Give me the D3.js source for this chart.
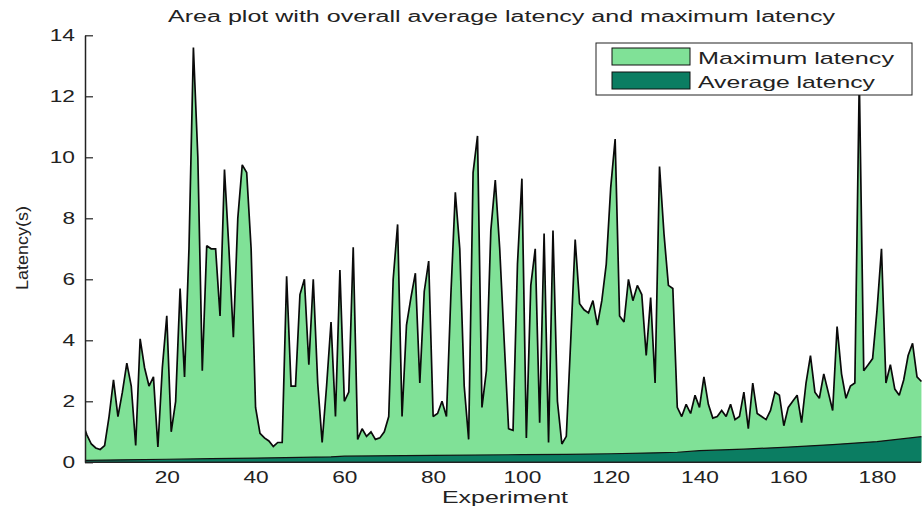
<!DOCTYPE html>
<html>
<head>
<meta charset="utf-8">
<script src="https://cdn.jsdelivr.net/npm/d3@7"></script>
<style>
  body { margin: 0; background: #fff; }
  text { font-family: "Liberation Sans", Arial, sans-serif; fill: #222; }
</style>
</head>
<body>
<div id="chart"></div>
<script>
// values, one per experiment (1..190)
let maxLatency = [
  1.3, 0.9, 0.6, 0.47, 0.42, 0.55, 1.5, 2.7, 1.5, 2.3,
  3.25, 2.5, 0.55, 4.05, 3.1, 2.5, 2.8, 0.5, 3.1, 4.8,
  1.0, 2.0, 5.7, 2.8, 7.0, 13.6, 10.0, 3.0, 7.1, 7.0,
  7.0, 4.8, 9.6, 7.0, 4.1, 8.0, 9.75, 9.5, 7.0, 1.8,
  0.95, 0.8, 0.7, 0.52, 0.65, 0.65, 6.1, 2.5, 2.5, 5.5,
  6.0, 3.2, 6.0, 2.6, 0.65, 2.5, 4.6, 1.5, 6.3, 2.0,
  2.3, 7.05, 0.75, 1.1, 0.85, 1.0, 0.75, 0.8, 1.0, 1.5,
  6.0, 7.8, 1.5, 4.5, 5.4, 6.2, 2.6, 5.6, 6.6, 1.5,
  1.6, 2.0, 1.5, 5.5, 8.85, 7.0, 2.5, 0.75, 9.5, 10.7,
  1.8, 3.0, 7.6, 9.25, 7.0, 4.0, 1.1, 1.05, 6.5, 9.3,
  0.8, 5.8, 7.0, 1.3, 7.5, 0.65, 7.6, 2.0, 0.6, 0.85,
  4.0, 7.3, 5.2, 5.0, 4.9, 5.3, 4.5, 5.3, 6.5, 9.0,
  10.6, 4.8, 4.6, 6.0, 5.3, 5.8, 5.5, 3.5, 5.4, 2.6,
  9.7, 7.5, 5.8, 5.7, 1.8, 1.5, 1.9, 1.6, 2.2, 1.8,
  2.8, 1.9, 1.45, 1.5, 1.7, 1.5, 1.9, 1.4, 1.5, 2.3,
  1.1, 2.6, 1.6, 1.5, 1.4, 1.7, 2.3, 2.2, 1.2, 1.8,
  2.0, 2.2, 1.3, 2.6, 3.5, 2.3, 2.1, 2.9, 2.3, 1.7,
  4.45, 2.9, 2.1, 2.5, 2.6, 12.6, 3.0, 3.2, 3.4, 5.0,
  7.0, 2.6, 3.2, 2.4, 2.2, 2.7, 3.5, 3.9, 2.8, 2.65
];

let avgExperiment = [1, 10, 20, 30, 40, 50, 57, 60, 80, 100, 110, 120, 130, 135, 140, 150, 160, 170, 180, 190];
let avgLatency    = [0.06, 0.08, 0.1, 0.12, 0.14, 0.16, 0.18, 0.2, 0.23, 0.25, 0.26, 0.28, 0.31, 0.33, 0.38, 0.43, 0.5, 0.58, 0.68, 0.84];

let xTicks = [20, 40, 60, 80, 100, 120, 140, 160, 180];
let yTicks = [0, 2, 4, 6, 8, 10, 12, 14];

let legendLabels = ["Maximum latency", "Average latency"];
let lightGreen = "#80e197";
let darkGreen = "#0b7d62";

let W = 923, H = 512;
let plotLeft = 85, plotRight = 921, plotTop = 35.3, plotBottom = 462.3;
let stretch = 1.42;   // the picture is stretched sideways

let x = d3.scaleLinear().domain([1.58, 189.9]).range([plotLeft, plotRight]);
let y = d3.scaleLinear().domain([0, 14]).range([plotBottom, plotTop]);

let svg = d3.select("#chart").append("svg")
  .attr("width", W)
  .attr("height", H);

svg.append("defs").append("clipPath").attr("id", "plot")
  .append("rect")
  .attr("x", plotLeft).attr("y", 0)
  .attr("width", W - plotLeft).attr("height", plotBottom + 1);

// x axis first, its inward ticks end up under the areas
let xAxis = svg.append("g")
  .attr("transform", "translate(0," + plotBottom + ")")
  .call(d3.axisBottom(x).tickValues(xTicks).tickSizeInner(-6).tickSizeOuter(0).tickPadding(0));
xAxis.select(".domain").remove();
xAxis.selectAll(".tick line").attr("stroke", "#222");
xAxis.selectAll(".tick text")
  .attr("y", 21)
  .attr("dy", 0)
  .attr("transform", "scale(" + stretch + ",1)")
  .style("font-size", "16px");

let maxData = maxLatency.map(function(v, i) { return { e: i + 1, v: v }; });
let avgData = avgExperiment.map(function(e, i) { return { e: e, v: avgLatency[i] }; });

let area = d3.area()
  .x(function(d) { return x(d.e); })
  .y0(y(0))
  .y1(function(d) { return y(d.v); });

let line = d3.line()
  .x(function(d) { return x(d.e); })
  .y(function(d) { return y(d.v); });

let plot = svg.append("g").attr("clip-path", "url(#plot)");

plot.append("path")
  .datum(maxData)
  .attr("d", area)
  .attr("fill", lightGreen);

plot.append("path")
  .datum(maxData)
  .attr("d", line)
  .attr("fill", "none")
  .attr("stroke", "#0a0a0a")
  .attr("stroke-width", 1.7)
  .attr("stroke-linejoin", "miter")
  .attr("stroke-miterlimit", 2);

plot.append("path")
  .datum(avgData)
  .attr("d", area)
  .attr("fill", darkGreen);

plot.append("path")
  .datum(avgData)
  .attr("d", line)
  .attr("fill", "none")
  .attr("stroke", "#111")
  .attr("stroke-width", 1.2);

// bottom axis line
svg.append("line")
  .attr("x1", plotLeft).attr("x2", plotRight)
  .attr("y1", plotBottom).attr("y2", plotBottom)
  .attr("stroke", "#222").attr("stroke-width", 1.5);

// y axis on top
let yAxis = svg.append("g")
  .attr("transform", "translate(" + plotLeft + ",0)")
  .call(d3.axisLeft(y).tickValues(yTicks).tickSizeInner(-8).tickSizeOuter(0).tickPadding(0));
yAxis.select(".domain").attr("stroke", "#222").attr("stroke-width", 1.5);
yAxis.selectAll(".tick line").attr("stroke", "#222").attr("stroke-width", 1.2);
yAxis.selectAll(".tick text")
  .attr("x", -10 / stretch)
  .attr("transform", "scale(" + stretch + ",1)")
  .style("font-size", "16px");

// title and axis labels
svg.append("text")
  .attr("x", 168).attr("y", 22)
  .attr("textLength", 667)
  .attr("lengthAdjust", "spacingAndGlyphs")
  .style("font-size", "16px")
  .text("Area plot with overall average latency and maximum latency");

svg.append("text")
  .attr("x", 442).attr("y", 503)
  .attr("textLength", 126)
  .attr("lengthAdjust", "spacingAndGlyphs")
  .style("font-size", "17px")
  .text("Experiment");

svg.append("text")
  .attr("transform", "translate(28,290) rotate(-90)")
  .attr("textLength", 84)
  .attr("lengthAdjust", "spacingAndGlyphs")
  .style("font-size", "16px")
  .text("Latency(s)");

// legend
let legend = svg.append("g");
legend.append("rect")
  .attr("x", 596).attr("y", 43)
  .attr("width", 316).attr("height", 52)
  .attr("fill", "#fff")
  .attr("stroke", "#222");

let items = legend.selectAll(".item")
  .data(legendLabels)
  .enter().append("g")
  .attr("transform", function(d, i) { return "translate(0," + (i * 24) + ")"; });

items.append("rect")
  .attr("x", 612).attr("y", 48)
  .attr("width", 78).attr("height", 17)
  .attr("fill", function(d, i) { return i === 0 ? lightGreen : darkGreen; })
  .attr("stroke", "#111");

items.append("text")
  .attr("x", 698).attr("y", 64)
  .attr("textLength", function(d, i) { return i === 0 ? 196 : 177; })
  .attr("lengthAdjust", "spacingAndGlyphs")
  .style("font-size", "17px")
  .text(function(d) { return d; });
</script>
</body>
</html>
